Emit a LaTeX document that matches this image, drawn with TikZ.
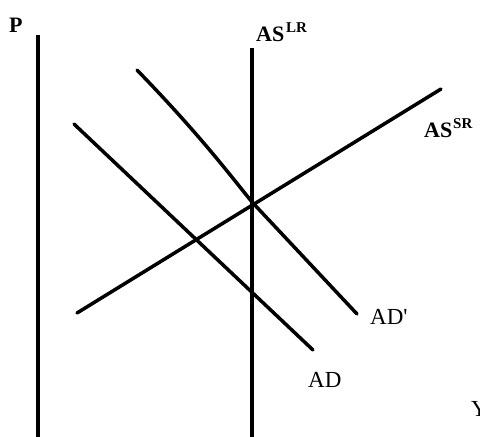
\documentclass[tikz,border=0pt]{standalone}
\usepackage{fontspec}
\setmainfont{Liberation Serif}
\begin{document}
\begin{tikzpicture}[x=1pt,y=-1pt,
  axis/.style={line width=4.5pt},
  curve/.style={line width=3.5pt,line cap=round},
  lab/.style={inner sep=0pt,anchor=north west,font=\fontsize{23}{23}\selectfont},
  sup/.style={inner sep=0pt,anchor=north west,font=\fontsize{15}{15}\selectfont\bfseries}]
\useasboundingbox (0,0) rectangle (480,437);
% axes
\coordinate (ptop) at (38,35);
\coordinate (pbot) at (38,437);
\draw[axis] (ptop) -- (pbot);
\coordinate (lrtop) at (252,48);
\coordinate (lrbot) at (252,437);
\draw[axis] (lrtop) -- (lrbot);
% curves
\coordinate (sr1) at (77,313);
\coordinate (sr2) at (441,89);
\draw[curve] (sr1) -- (sr2);
\coordinate (adp1) at (137,70);
\coordinate (adp2) at (357,314);
\draw[curve] (adp1) .. controls (200,135) and (230,175) .. (252,202) -- (adp2);
\coordinate (ad1) at (74,124);
\coordinate (ad2) at (313,350);
\draw[curve] (ad1) -- (ad2);
% labels
\node[lab,font=\fontsize{22}{22}\selectfont\bfseries] (P) at (9,18) {P};
\node[lab,font=\fontsize{22}{22}\selectfont\bfseries] (aslr) at (256,27) {AS};
\node[sup] (lr) at (286,22) {LR};
\node[lab,font=\fontsize{22}{22}\selectfont\bfseries] (assr) at (424,123) {AS};
\node[sup] (sr) at (453,118) {SR};
\node[lab] (adp) at (370,309) {AD\textquotesingle};
\node[lab] (ad) at (308,372) {AD};
\node[lab] (Y) at (471,401) {Y};
\end{tikzpicture}
\end{document}
